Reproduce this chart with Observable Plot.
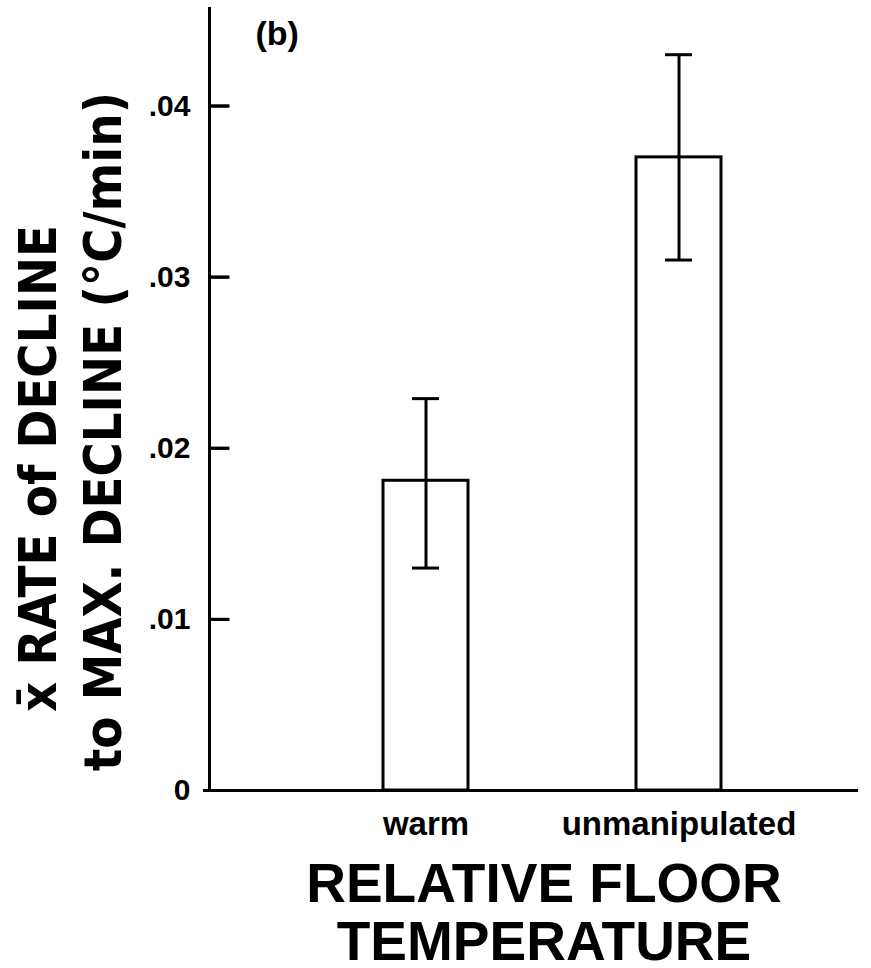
<!DOCTYPE html>
<html>
<head>
<meta charset="utf-8">
<script src="https://cdn.jsdelivr.net/npm/d3@7"></script>
<script src="https://cdn.jsdelivr.net/npm/@observablehq/plot@0.6"></script>
<style>
  html, body { margin: 0; padding: 0; background: #fff; }
  svg { display: block; }
</style>
</head>
<body>
<div id="chart"></div>
<script>
const categories = ["warm", "unmanipulated"];
const means = [0.0181, 0.0370];
const errLow = [0.0130, 0.0310];
const errHigh = [0.0229, 0.0430];
const yTicks = [0, 0.01, 0.02, 0.03, 0.04];
const yMax = 0.0457;
const panelLabel = "(b)";
const yLabelLine1 = "x\u0304 RATE of DECLINE";
const yLabelLine2 = "to MAX. DECLINE (°C/min)";
const xTitleLines = ["RELATIVE FLOOR", "TEMPERATURE"];

const data = categories.map((c, i) => ({cat: c, mean: means[i], lo: errLow[i], hi: errHigh[i]}));
const innerTicks = yTicks.filter(d => d > 0);

const narrow = "'Liberation Sans Narrow', 'DejaVu Sans Condensed', 'Liberation Sans', Arial, sans-serif";
const sans = "'Liberation Sans', Arial, Helvetica, sans-serif";

// inward tick glyph (drawn to the right of the y axis)
const inwardTick = {draw(context) { context.moveTo(0, 0); context.lineTo(20, 0); }};

const chart = Plot.plot({
  width: 871,
  height: 968,
  marginLeft: 209,
  marginRight: 13,
  marginTop: 8,
  marginBottom: 178,
  style: {fontFamily: sans, color: "#000", background: "#fff"},
  x: {domain: categories, range: [382, 721], paddingInner: 0.665, paddingOuter: 0, axis: null},
  y: {domain: [0, yMax], axis: null},
  marks: [
    Plot.barY(data, {x: "cat", y: "mean", fill: "white", stroke: "black", strokeWidth: 3}),
    Plot.ruleX(data, {x: "cat", y1: "lo", y2: "hi", stroke: "black", strokeWidth: 3}),
    Plot.tickY(data, {x: "cat", y: "lo", stroke: "black", strokeWidth: 3, inset: 29}),
    Plot.tickY(data, {x: "cat", y: "hi", stroke: "black", strokeWidth: 3, inset: 29}),
    Plot.ruleY([0], {stroke: "black", strokeWidth: 3, insetLeft: -6}),
    Plot.frame({anchor: "left", stroke: "black", strokeWidth: 3}),
    Plot.axisY({
      ticks: yTicks,
      tickSize: 0,
      tickPadding: 19,
      fontSize: 30,
      fontWeight: "bold",
      tickFormat: d => d === 0 ? "0" : d3.format(".2f")(d).replace(/^0/, ""),
      label: null
    }),
    Plot.axisX({
      tickSize: 0,
      tickPadding: 21,
      fontSize: 33,
      fontWeight: "bold",
      label: null
    }),
    Plot.text([panelLabel], {frameAnchor: "top-left", text: d => d, dx: 46, dy: 12, lineAnchor: "top", textAnchor: "start", fontSize: 34, fontWeight: "bold"}),
    Plot.text([yLabelLine1], {frameAnchor: "left", text: d => d, rotate: -90, dx: -154, dy: 69, lineAnchor: "bottom", textAnchor: "middle", fontSize: 52, fontWeight: "bold", fontFamily: narrow}),
    Plot.text([yLabelLine2], {frameAnchor: "left", text: d => d, rotate: -90, dx: -89, dy: 32, lineAnchor: "bottom", textAnchor: "middle", fontSize: 52, fontWeight: "bold", fontFamily: narrow}),
    Plot.text([xTitleLines.join("\n")], {frameAnchor: "bottom", text: d => d, dx: 10, dy: 70, lineAnchor: "top", lineHeight: 1.06, textAnchor: "middle", fontSize: 55, fontWeight: "bold"}),
    Plot.ruleY(innerTicks, {y: d => d, stroke: "black", strokeWidth: 3, insetRight: 629}),
    Plot.dot(innerTicks, {y: d => d, frameAnchor: "left", symbol: inwardTick, fill: "none", stroke: "black", strokeWidth: 3, r: 10})
  ]
});

document.getElementById("chart").appendChild(chart);
</script>
</body>
</html>
